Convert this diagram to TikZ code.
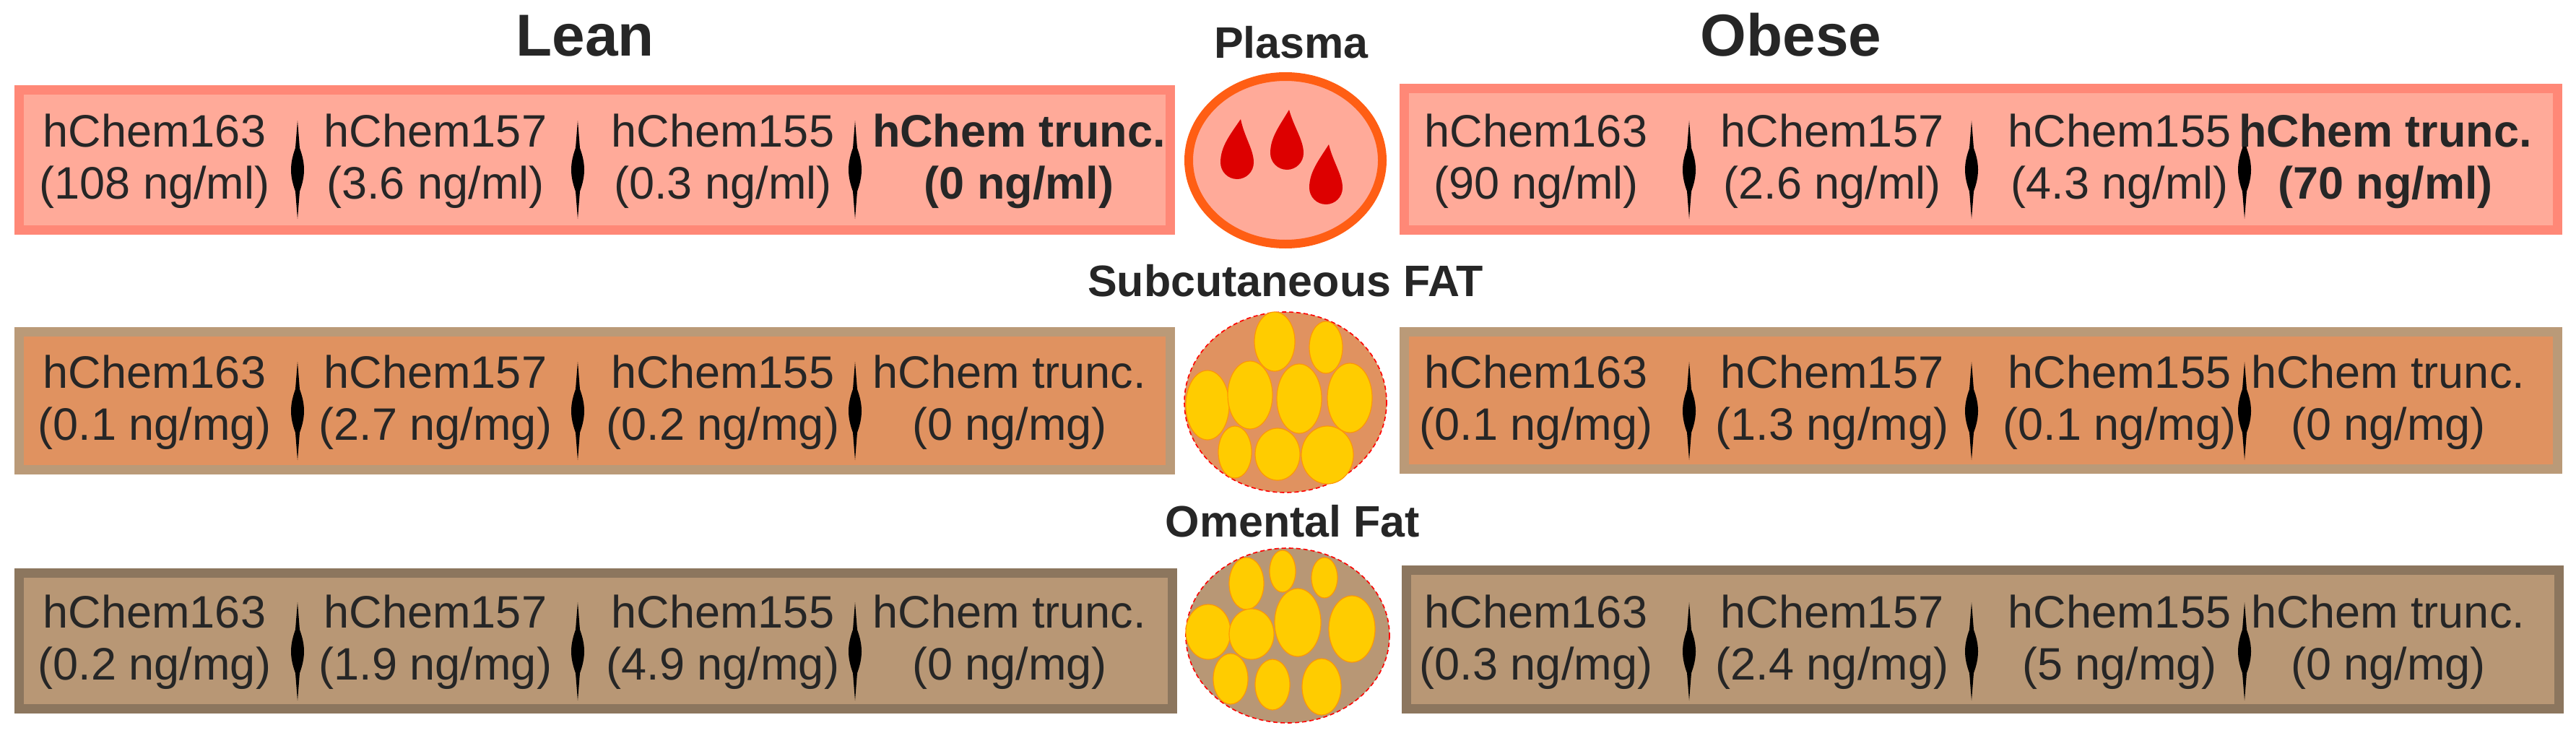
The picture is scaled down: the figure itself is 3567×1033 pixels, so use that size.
\documentclass[tikz,border=0pt]{standalone}
\usepackage{fontspec}
\setmainfont{Liberation Sans}
\begin{document}
\definecolor{txt}{HTML}{262626}
\definecolor{plF}{HTML}{FFAA99}
\definecolor{plB}{HTML}{FF8877}
\definecolor{scF}{HTML}{E09260}
\definecolor{scB}{HTML}{BA9A78}
\definecolor{omF}{HTML}{B89775}
\definecolor{omB}{HTML}{8C765E}
\definecolor{ring}{HTML}{FF5E14}
\definecolor{drop}{HTML}{DD0000}
\definecolor{fat}{HTML}{FFCC00}
\begin{tikzpicture}[x=0.5pt,y=-0.5pt,
  val/.style={text=txt,align=center,font=\fontsize{31.5}{36}\selectfont,inner sep=0pt},
  ttl/.style={text=txt,font=\fontsize{41}{44}\selectfont\bfseries,anchor=base,inner sep=0pt},
  sub/.style={text=txt,font=\fontsize{30.5}{34}\selectfont\bfseries,anchor=base,inner sep=0pt},
  box/.style={line width=6.5pt,line join=miter},
  cell/.style={fill=fat,draw=orange!80!yellow,line width=0.6pt},
  dia/.style={fill=black}]
\useasboundingbox (0,0) rectangle (3567,1033);
% titles
\node[ttl] (lean) at (810,77) {Lean};
\node[ttl] (obese) at (2480,77) {Obese};
\node[sub] (plasma) at (1788,80) {Plasma};
\node[sub] (subc) at (1780,410) {Subcutaneous FAT};
\node[sub] (oment) at (1790,743) {Omental Fat};
% boxes
\draw[box,fill=plF,draw=plB] (26.5,124.5) rectangle (1620.5,318.5);
\draw[box,fill=plF,draw=plB] (1944.5,122.5) rectangle (3541.5,318.5);
\draw[box,fill=scF,draw=scB] (26.5,459.5) rectangle (1620.5,650.5);
\draw[box,fill=scF,draw=scB] (1944.5,459.5) rectangle (3541.5,649.5);
\draw[box,fill=omF,draw=omB] (26.5,793.5) rectangle (1623.5,981.5);
\draw[box,fill=omF,draw=omB] (1947.5,789.5) rectangle (3543.5,981.5);
% diamonds
\foreach \x in {412,800,1184,2339,2730,3108}{
  \foreach \y in {235,569,902}{
    \fill[dia] (\x,\y-68) -- (\x+3,\y-30) .. controls (\x+11,\y-8) and (\x+11,\y+8) .. (\x+3,\y+30) -- (\x,\y+68)
          -- (\x-3,\y+30) .. controls (\x-11,\y+8) and (\x-11,\y-8) .. (\x-3,\y-30) -- cycle;
  }}
% plasma texts
\node[val] (l1a) at (214,223) {hChem163\\(108 ng/ml)};
\node[val] (l1b) at (603,223) {hChem157\\(3.6 ng/ml)};
\node[val] (l1c) at (1001,223) {hChem155\\(0.3 ng/ml)};
\node[val,font=\fontsize{31.5}{36}\selectfont\bfseries] (l1d) at (1411,223) {hChem trunc.\\(0 ng/ml)};
\node[val] (r1a) at (2127,223) {hChem163\\(90 ng/ml)};
\node[val] (r1b) at (2537,223) {hChem157\\(2.6 ng/ml)};
\node[val] (r1c) at (2935,223) {hChem155\\(4.3 ng/ml)};
\node[val,font=\fontsize{31.5}{36}\selectfont\bfseries] (r1d) at (3303,223) {hChem trunc.\\(70 ng/ml)};
% subcut texts
\node[val] (l2a) at (214,557) {hChem163\\(0.1 ng/mg)};
\node[val] (l2b) at (603,557) {hChem157\\(2.7 ng/mg)};
\node[val] (l2c) at (1001,557) {hChem155\\(0.2 ng/mg)};
\node[val] (l2d) at (1398,557) {hChem trunc.\\(0 ng/mg)};
\node[val] (r2a) at (2127,557) {hChem163\\(0.1 ng/mg)};
\node[val] (r2b) at (2537,557) {hChem157\\(1.3 ng/mg)};
\node[val] (r2c) at (2935,557) {hChem155\\(0.1 ng/mg)};
\node[val] (r2d) at (3307,557) {hChem trunc.\\(0 ng/mg)};
% omental texts
\node[val] (l3a) at (214,889) {hChem163\\(0.2 ng/mg)};
\node[val] (l3b) at (603,889) {hChem157\\(1.9 ng/mg)};
\node[val] (l3c) at (1001,889) {hChem155\\(4.9 ng/mg)};
\node[val] (l3d) at (1398,889) {hChem trunc.\\(0 ng/mg)};
\node[val] (r3a) at (2127,889) {hChem163\\(0.3 ng/mg)};
\node[val] (r3b) at (2537,889) {hChem157\\(2.4 ng/mg)};
\node[val] (r3c) at (2935,889) {hChem155\\(5 ng/mg)};
\node[val] (r3d) at (3307,889) {hChem trunc.\\(0 ng/mg)};
% plasma ellipse
\draw[fill=plF,draw=ring,line width=6pt] (1780,222) ellipse [x radius=134, y radius=116];
\foreach \tx/\ty/\cx/\cy in {1718/165/1713/225, 1785/152/1782/212, 1840/200/1836/260}{
  \fill[drop] (\tx,\ty) .. controls (\cx+10,\cy-35) and (\cx+23,\cy-18) .. (\cx+23,\cy)
     arc[start angle=0,end angle=180,radius=23]
     .. controls (\cx-23,\cy-22) and (\cx-10,\cy-38) .. (\tx,\ty) -- cycle;
}
% subcutaneous ellipse
\draw[fill=scF,draw=red,line width=0.8pt,densely dashed] (1780,557) ellipse [x radius=140, y radius=125];
\foreach \cx/\cy/\rx/\ry in {1765/473/28/41, 1836/481/23/36, 1672/561/30/48, 1731/547/31/47,
   1799/552/31/48, 1869/551/31/48, 1710/626/23/36, 1769/629/31/36, 1838/630/36/40}
  \draw[cell] (\cx,\cy) ellipse [x radius=\rx, y radius=\ry];
% omental ellipse
\draw[fill=omF,draw=red,line width=0.8pt,densely dashed] (1783,880) ellipse [x radius=141, y radius=121];
\foreach \cx/\cy/\rx/\ry in {1726/808/24/36, 1776/791/18/29, 1834/800/18/28, 1673/875/31/38,
   1733/878/31/35, 1797/862/32/47, 1872/871/32/46, 1704/940/24/35, 1762/948/24/35, 1830/951/27/39}
  \draw[cell] (\cx,\cy) ellipse [x radius=\rx, y radius=\ry];
\end{tikzpicture}
\end{document}
